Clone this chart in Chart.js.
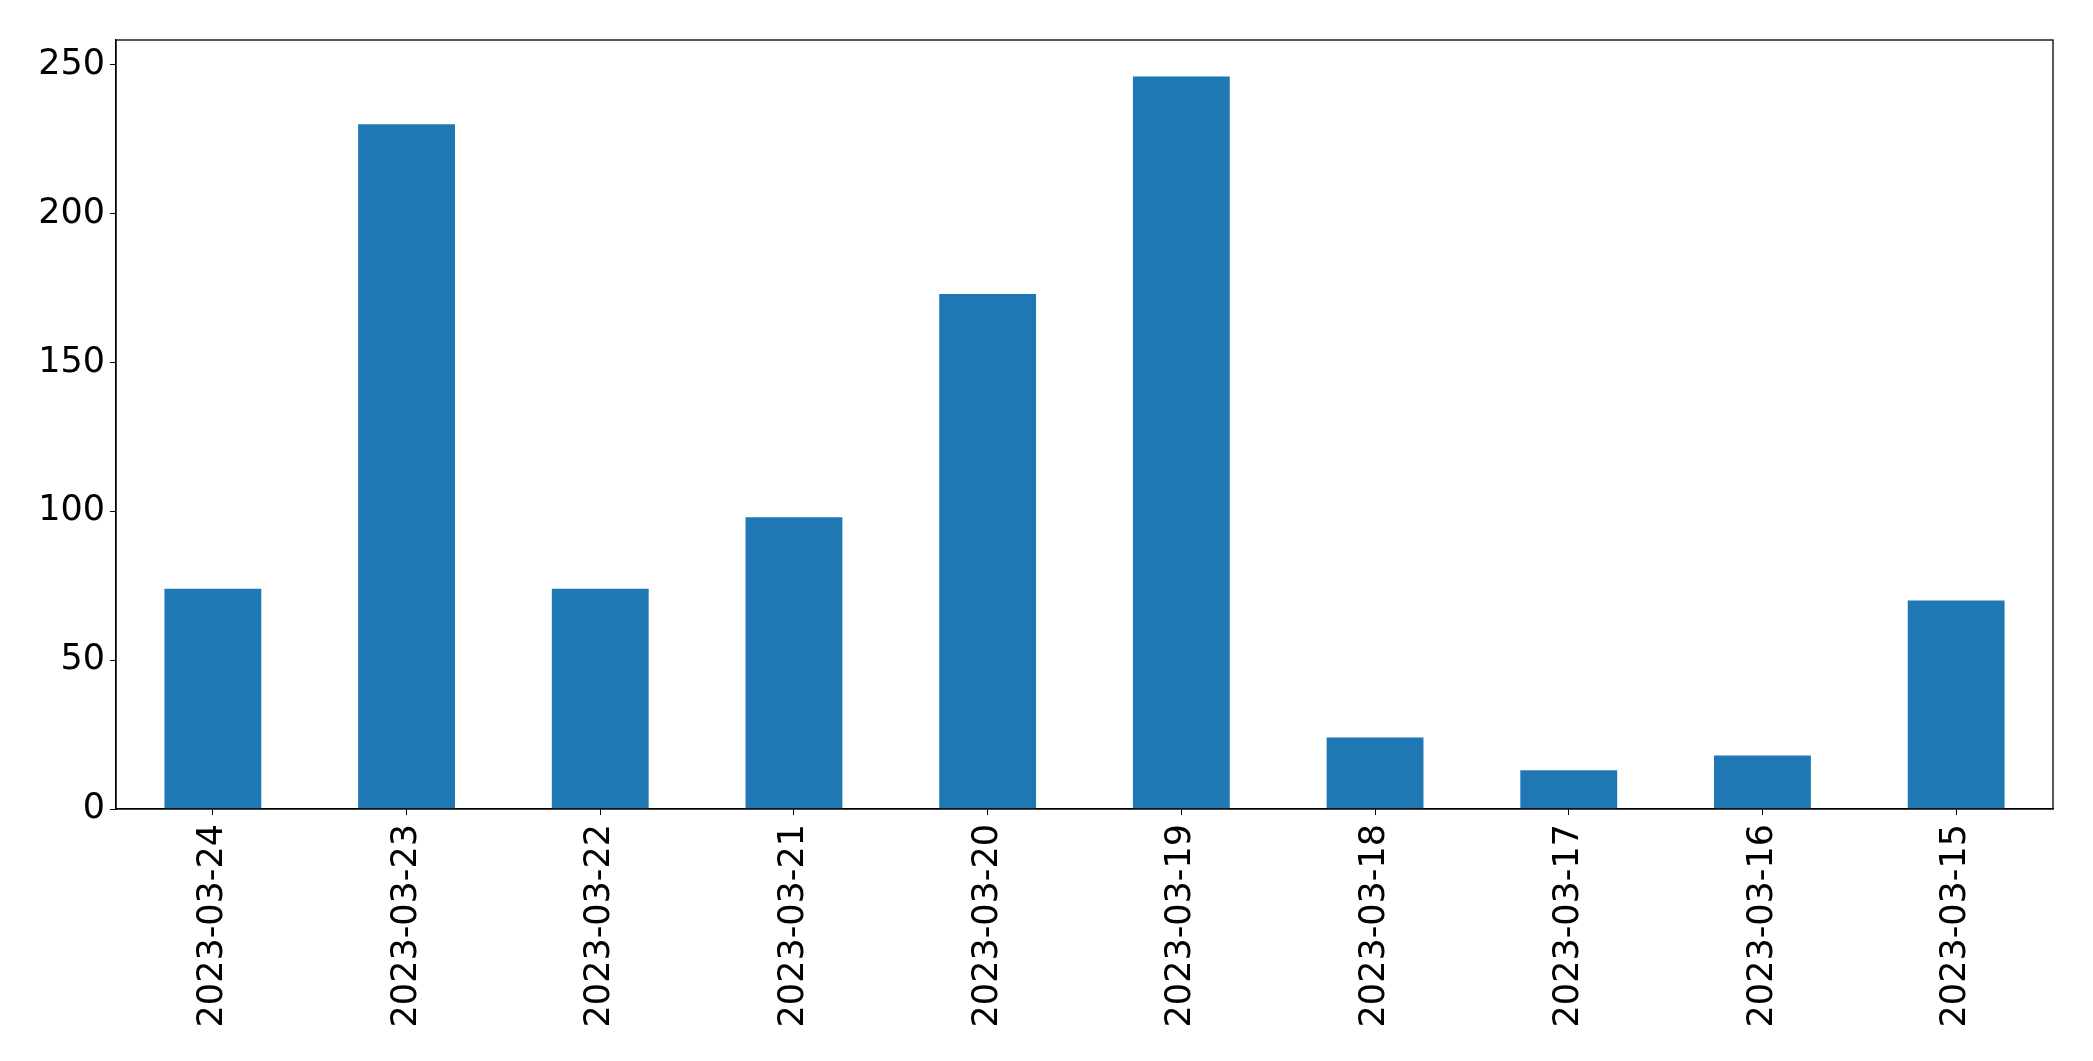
<!DOCTYPE html>
<html>
<head>
<meta charset="utf-8">
<script src="https://cdn.jsdelivr.net/npm/chart.js@4"></script>
<style>
  html, body { margin: 0; padding: 0; background: #fff; }
  #wrap { width: 2093px; height: 1061px; }
</style>
</head>
<body>
<div id="wrap"><canvas id="chart" width="2093" height="1061"></canvas></div>
<script>
/* DATA */
const dates = ['2023-03-24', '2023-03-23', '2023-03-22', '2023-03-21', '2023-03-20',
  '2023-03-19', '2023-03-18', '2023-03-17', '2023-03-16', '2023-03-15']
const counts = [74, 230, 74, 98, 173, 246, 24, 13, 18, 70]
const yTicks = [0, 50, 100, 150, 200, 250]

// box round the plot area, like matplotlib spines
const frame = {
  id: 'frame',
  afterDraw(chart) {
    const { ctx, chartArea: a } = chart
    ctx.save()
    ctx.strokeStyle = '#000'
    ctx.lineWidth = 1.3
    ctx.strokeRect(a.left, a.top, a.right - a.left, a.bottom - a.top)
    ctx.restore()
  }
}

const font = { family: 'DejaVu Sans', size: 35 }

new Chart(document.getElementById('chart'), {
  type: 'bar',
  data: {
    labels: dates,
    datasets: [{
      data: counts,
      backgroundColor: '#1f77b4',
      categoryPercentage: 0.5,
      barPercentage: 1
    }]
  },
  options: {
    responsive: false,
    animation: false,
    layout: { padding: { top: 40, right: 40, left: 0, bottom: 0 } },
    plugins: { legend: { display: false }, tooltip: { enabled: false } },
    scales: {
      x: {
        grid: { drawOnChartArea: false, tickLength: 6, tickColor: '#000', offset: false },
        border: { color: '#000', width: 1.3 },
        ticks: { color: '#000', font, minRotation: 90, maxRotation: 90, padding: 9, autoSkip: false },
        afterFit(scale) { scale.height = 252 }
      },
      y: {
        min: 0,
        max: 258.3,
        grid: { drawOnChartArea: false, tickLength: 6, tickColor: '#000' },
        border: { color: '#000', width: 1.3 },
        ticks: { color: '#000', font, stepSize: 50, padding: 5 },
        afterBuildTicks(scale) { scale.ticks = yTicks.map(v => ({ value: v })) },
        afterFit(scale) { scale.width = 116 }
      }
    }
  },
  plugins: [frame]
})
</script>
</body>
</html>
